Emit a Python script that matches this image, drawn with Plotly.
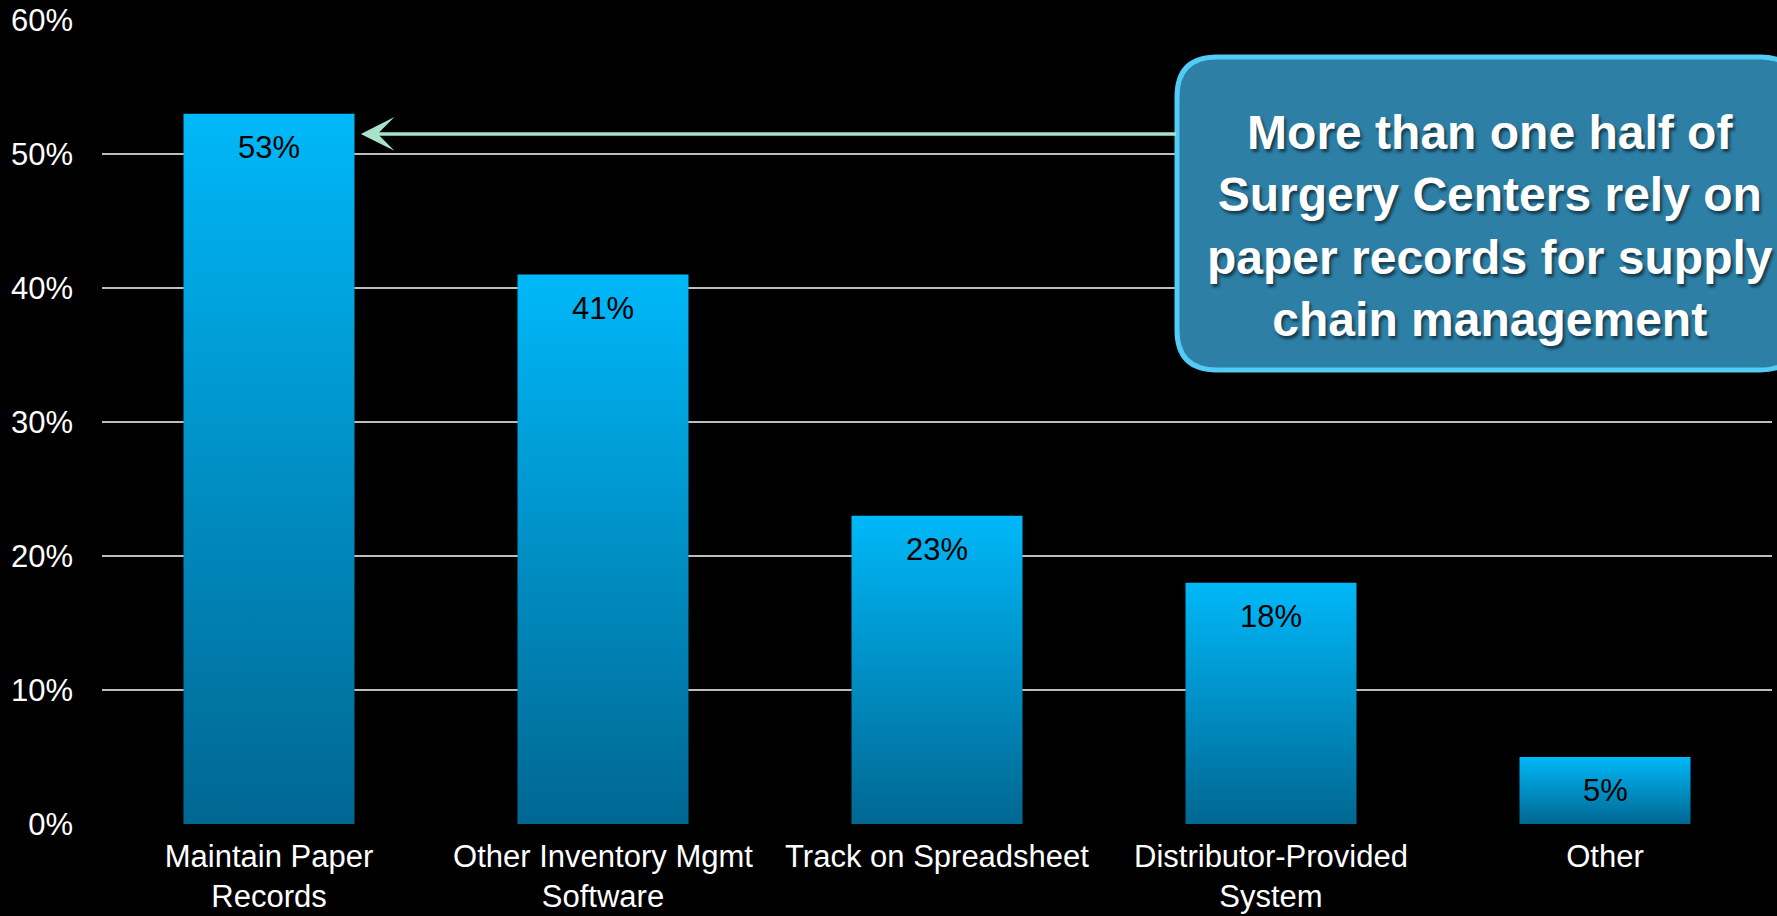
import plotly.graph_objects as go

categories = ["Maintain Paper<br>Records", "Other Inventory Mgmt<br>Software",
              "Track on Spreadsheet", "Distributor-Provided<br>System", "Other"]
values = [53, 41, 23, 18, 5]
y_ticks = [0, 10, 20, 30, 40, 50, 60]
y_tick_labels = [f"{t}%" for t in y_ticks]
callout_text = ("More than one half of<br>Surgery Centers rely on<br>"
                "paper records for supply<br>chain management")

W, H = 1777, 916
ML, MR, MT, MB = 102, 5, 20, 92
PW, PH = W - ML - MR, H - MT - MB
BAR_W = 0.512
FONT = "Liberation Sans, Arial, sans-serif"

fig = go.Figure()

# gradient bars built from the data
for i, v in enumerate(values):
    x0, x1 = i - BAR_W / 2, i + BAR_W / 2
    fig.add_trace(go.Scatter(
        x=[x0, x1, x1, x0, x0], y=[0, 0, v, v, 0],
        mode="lines", line=dict(width=0), fill="toself",
        fillgradient=dict(type="vertical",
                          colorscale=[[0, "#006792"], [1, "#00B8F8"]],
                          start=0, stop=v),
        hoverinfo="skip", showlegend=False))
    fig.add_annotation(x=i, y=v, xref="x", yref="y", text=f"{v}%",
                       showarrow=False, yanchor="top", yshift=-14,
                       font=dict(family=FONT, size=31, color="#000000"))

# callout box (paper coords from pixel positions)
def px2paper_x(px):
    return (px - ML) / PW

def py2paper_y(py):
    return (H - MB - py) / PH

bx0, bx1 = px2paper_x(1177), px2paper_x(1800)
by1, by0 = py2paper_y(57), py2paper_y(370)
rx, ry = 40 / PW, 40 / PH
path = (f"M {bx0+rx},{by1} L {bx1-rx},{by1} Q {bx1},{by1} {bx1},{by1-ry} "
        f"L {bx1},{by0+ry} Q {bx1},{by0} {bx1-rx},{by0} "
        f"L {bx0+rx},{by0} Q {bx0},{by0} {bx0},{by0+ry} "
        f"L {bx0},{by1-ry} Q {bx0},{by1} {bx0+rx},{by1} Z")
fig.add_shape(type="path", path=path, xref="paper", yref="paper",
              fillcolor="#2D7FA6", line=dict(color="#52CCF4", width=5),
              layer="above")

fig.add_annotation(x=px2paper_x(1490), y=py2paper_y(226), xref="paper", yref="paper",
                   text=callout_text, showarrow=False, align="center",
                   xanchor="center", yanchor="middle",
                   font=dict(family=FONT, size=48, color="#FFFFFF",
                             weight="bold", shadow="2px 3px 3px rgba(0,0,0,0.55)"))

# arrow from callout to first bar
fig.add_annotation(x=0.275, y=51.5, xref="x", yref="y",
                   ax=2.72, ay=51.5, axref="x", ayref="y",
                   text="", showarrow=True, arrowhead=3, arrowsize=1.6,
                   arrowwidth=3.5, arrowcolor="#A8E2CA", standoff=0)

fig.update_layout(
    width=W, height=H,
    margin=dict(l=ML, r=MR, t=MT, b=MB, autoexpand=False),
    paper_bgcolor="#000000", plot_bgcolor="#000000",
    font=dict(family=FONT, size=31, color="#FFFFFF"),
    showlegend=False,
    xaxis=dict(range=[-0.5, 4.5], tickvals=list(range(len(categories))),
               ticktext=categories, showgrid=False, zeroline=False,
               showline=False, ticks="", ticklabelstandoff=11,
               automargin=False,
               tickfont=dict(family=FONT, size=31, color="#FFFFFF")),
    yaxis=dict(range=[0, 60], tickvals=y_ticks, ticktext=y_tick_labels,
               showgrid=True, gridcolor="#BDBDBD", gridwidth=2,
               zeroline=False, showline=False, ticks="",
               ticklabelstandoff=28, automargin=False,
               tickfont=dict(family=FONT, size=31, color="#FFFFFF")),
)

fig.write_html("out.html",
               config={"displayModeBar": False},
               post_script="document.body.style.margin='0';"
                           "document.body.style.background='#000';"
                           "document.body.style.overflow='hidden';")
